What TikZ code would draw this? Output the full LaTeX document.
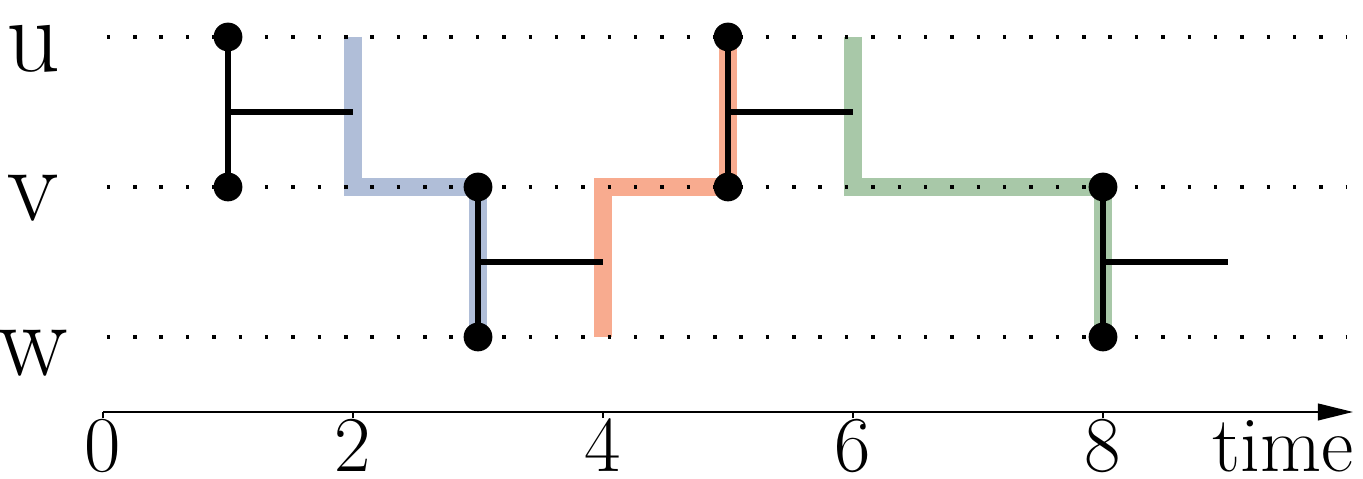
\documentclass[tikz,border=0pt]{standalone}
\usepackage{xcolor}
\definecolor{pathblue}{HTML}{B0BED8}
\definecolor{pathorange}{HTML}{F8AB8F}
\definecolor{pathgreen}{HTML}{A8C8A8}
\usetikzlibrary{arrows.meta, positioning}

\begin{document}
\begin{tikzpicture}[
    every node/.style={align=center},
    event/.style={circle, fill=black, inner sep=0pt, minimum size=0.23cm},
    contact/.style={line width=1.4pt},
    band/.style={line width=4.3pt},
    rowline/.style={line width=0.8pt, dash pattern=on 0.8pt off 5.2pt},
    rowlabel/.style={anchor=base, inner sep=0pt, font=\fontsize{24}{28}\selectfont},
    ticklabel/.style={anchor=base, inner sep=0pt, font=\fontsize{18}{21}\selectfont},
    axis/.style={line width=0.45pt, -{Triangle[length=8pt, width=3.8pt]}}
]
\useasboundingbox (-0.824,-0.536) rectangle (10.08,3.296);

% Coordinates
\coordinate (us) at (0.03,3);   \coordinate (ue) at (9.95,3);
\coordinate (vs) at (0.03,1.8); \coordinate (ve) at (9.95,1.8);
\coordinate (ws) at (0.03,0.6); \coordinate (we) at (9.95,0.6);
\coordinate (o) at (0,0);
\coordinate (tend) at (10,0);

% Paths (coloured)
\coordinate (b1) at (2,3); \coordinate (b2) at (2,1.8); \coordinate (b3) at (3,1.8); \coordinate (b4) at (3,0.6);
\coordinate (r1) at (4,0.6); \coordinate (r2) at (4,1.8); \coordinate (r3) at (5,1.8); \coordinate (r4) at (5,3);
\coordinate (g1) at (6,3); \coordinate (g2) at (6,1.8); \coordinate (g3) at (8,1.8); \coordinate (g4) at (8,0.6);
\draw[band, pathblue] (b1) -- (b2) -- (b3) -- (b4);
\draw[band, pathorange] (r1) -- (r2) -- (r3) -- (r4);
\draw[band, pathgreen] (g1) -- (g2) -- (g3) -- (g4);

% Rows
\node[rowlabel] (lu) at (-0.56,2.72) {u};
\node[rowlabel] (lv) at (-0.56,1.53) {v};
\node[rowlabel] (lw) at (-0.56,0.29) {w};
\draw[rowline] (us) -- (ue);
\draw[rowline] (vs) -- (ve);
\draw[rowline] (ws) -- (we);

% Nodes
\node[event] (u1) at (1,3) {};
\node[event] (v1) at (1,1.8) {};
\node[event] (v3) at (3,1.8) {};
\node[event] (w3) at (3,0.6) {};
\node[event] (u5) at (5,3) {};
\node[event] (v5) at (5,1.8) {};
\node[event] (v8) at (8,1.8) {};
\node[event] (w8) at (8,0.6) {};
\coordinate (m1) at (1,2.4); \coordinate (d1) at (2,2.4);
\coordinate (m3) at (3,1.2); \coordinate (d3) at (4,1.2);
\coordinate (m5) at (5,2.4); \coordinate (d5) at (6,2.4);
\coordinate (m8) at (8,1.2); \coordinate (d8) at (9,1.2);

% Connections
\draw[contact] (u1.center) -- (v1.center);
\draw[contact] (m1) -- (d1);
\draw[contact] (v3.center) -- (w3.center);
\draw[contact] (m3) -- (d3);
\draw[contact] (u5.center) -- (v5.center);
\draw[contact] (m5) -- (d5);
\draw[contact] (v8.center) -- (w8.center);
\draw[contact] (m8) -- (d8);

% Time axis
\draw[axis] (o) -- (tend);
\draw[line width=0.45pt] (0,0) -- (0,-0.05) (2,0) -- (2,-0.05) (4,0) -- (4,-0.05) (6,0) -- (6,-0.05) (8,0) -- (8,-0.05);
\node[ticklabel] (t0) at (0,-0.48) {0};
\node[ticklabel] (t2) at (2,-0.48) {2};
\node[ticklabel] (t4) at (4,-0.48) {4};
\node[ticklabel] (t6) at (6,-0.48) {6};
\node[ticklabel] (t8) at (8,-0.48) {8};
\node[ticklabel, anchor=base east] (time) at (10.01,-0.48) {time};

\end{tikzpicture}
\end{document}
